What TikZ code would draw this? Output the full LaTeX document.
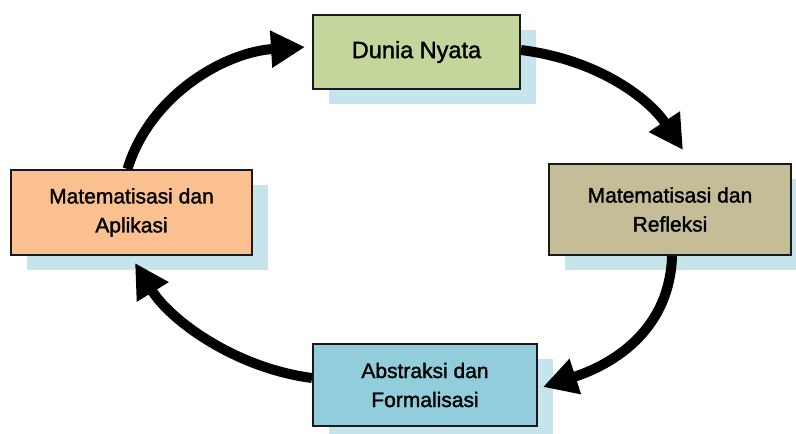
\documentclass[tikz,border=0pt]{standalone}
\usepackage{fontspec}
\setmainfont{Liberation Sans}
\newfontfamily\heavyfont{Liberation Sans}[FakeBold=1.5]
\usetikzlibrary{arrows.meta,shadows}
\definecolor{cgreen}{HTML}{C3D69B}
\definecolor{corange}{HTML}{FAC090}
\definecolor{ctan}{HTML}{C4BD97}
\definecolor{cblue}{HTML}{92CDDC}
\definecolor{cshadow}{HTML}{C6E4EC}
\begin{document}
\begin{tikzpicture}[x=1pt,y=-1pt,
  box/.style={draw=black!90, line width=2pt, align=center, inner sep=0pt,
    font=\heavyfont\fontsize{21}{29}\selectfont,
    general shadow={fill=cshadow, shadow xshift=16pt, shadow yshift=-15pt}},
  flow/.style={line width=10pt, -{Triangle[length=34pt,width=35pt]}}]
\useasboundingbox (0,0) rectangle (796,434);
\node[box, fill=cgreen, minimum width=207pt, minimum height=74pt,
  font=\heavyfont\fontsize{23.5}{29}\selectfont] (dn) at (416.5,52) {Dunia Nyata};
\node[box, fill=corange, minimum width=241pt, minimum height=85pt] (lb) at (131.5,212.5) {Matematisasi dan\\Aplikasi};
\node[box, fill=ctan, minimum width=242pt, minimum height=91pt] (rb) at (670,209.5) {Matematisasi dan\\Refleksi};
\node[box, fill=cblue, minimum width=224pt, minimum height=82pt] (bx) at (425,385) {Abstraksi dan\\Formalisasi};
\coordinate (t1) at (683,150);
\coordinate (t2) at (543,387);
\coordinate (t3) at (135,263);
\coordinate (t4) at (305,47);
\draw[flow] ([yshift=2pt]dn.east) .. controls (600,60) and (650,100) .. (t1);
\draw[flow] ([xshift=2pt]rb.south) .. controls (670,325) and (620,362) .. (t2);
\draw[flow] ([yshift=7pt]bx.west) .. controls (235,368) and (170,320) .. (t3);
\draw[flow] ([xshift=-4pt]lb.north) .. controls (150,95) and (225,52) .. (t4);
\end{tikzpicture}
\end{document}
